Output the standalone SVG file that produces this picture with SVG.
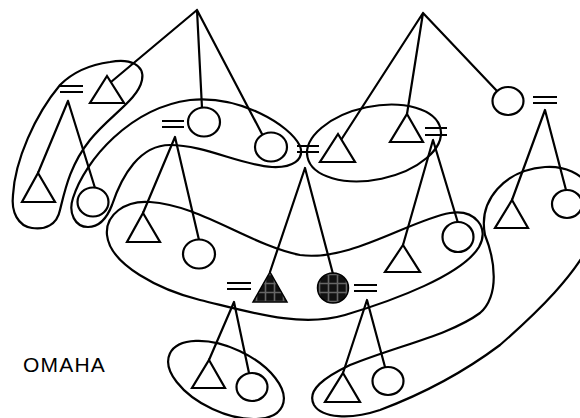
<svg xmlns="http://www.w3.org/2000/svg" width="580" height="418" viewBox="0 0 580 418">
<style>
.s{fill:none;stroke:#000;stroke-width:2.2;stroke-linejoin:round;stroke-linecap:round}
.n{fill:#fff;stroke:#000;stroke-width:2.2;stroke-linejoin:miter}
.f{fill:url(#hatch);stroke:#000;stroke-width:1.5}
.eq{stroke:#000;stroke-width:2;fill:none}
.t{font-family:"Liberation Sans",Arial,sans-serif;font-size:21px;letter-spacing:1.2px;fill:#000}
</style>
<defs>
<pattern id="hatch" width="9" height="9" patternUnits="userSpaceOnUse">
<rect width="9" height="9" fill="#111"/>
<path d="M0,4.5H9M4.5,0V9" stroke="#666" stroke-width="1.6"/>
</pattern>
</defs>
<rect width="580" height="418" fill="#fff"/>
<g id="enclosures" class="s">
<path d="M110,62 C130,58 145,65 142,80 C138,100 110,115 90,140 C70,165 65,190 60,210 C57,225 45,230 32,228 C18,226 11,212 13,195 C15,160 35,115 60,85 C75,70 95,64 110,62 Z"/>
<path d="M88,227 C75,227 68,213 73,198 C85,160 130,108 190,100 C240,95 290,125 300,146 C305,160 292,168 272,167 C240,165 205,145 170,145 C140,145 122,175 112,205 C107,218 100,227 88,227 Z"/>
<path d="M107,235 C105,215 125,200 150,202 C200,205 250,245 300,255 C350,262 410,220 450,213 C475,209 490,228 479,247 C462,275 395,300 345,315 C300,328 250,312 200,300 C160,290 110,265 107,235 Z"/>
<path d="M480,313 C500,295 495,260 485,235 C478,200 505,170 545,167 C585,164 610,200 592,240 C575,275 540,310 500,345 C460,375 420,395 380,410 C350,420 322,418 314,405 C306,390 325,377 350,365 C400,345 450,335 480,313 Z"/>
<ellipse cx="374" cy="143" rx="68" ry="36.5" transform="rotate(-12 374 143)"/>
<ellipse cx="226" cy="380" rx="62" ry="32" transform="rotate(25 226 380)"/>
</g>
<g id="connectors" class="s">
<path d="M197,10 L111,82 M197,10 L202,108 M197,10 L262,134"/>
<path d="M423,13 L341,140 M423,13 L407,114 M423,13 L497,91"/>
<path d="M68,101 L38,173 M68,101 L95,188"/>
<path d="M175,137 L143,213 M175,137 L199,240"/>
<path d="M305,168 L270,272 M305,168 L333,274"/>
<path d="M433,140 L403,245 M433,140 L458,223"/>
<path d="M545,110 L512,200 M545,110 L566,190"/>
<path d="M234,302 L209,360 M234,302 L249,373"/>
<path d="M367,300 L343,373 M367,300 L385,367"/>
</g>
<g id="equals" class="eq">
<path d="M60,86H83M60,92H83"/>
<path d="M162,121H184M162,127H184"/>
<path d="M297,146H319M297,152H319"/>
<path d="M425,128H447M425,135H447"/>
<path d="M533,97H557M533,103H557"/>
<path d="M227,283H251M227,289H251"/>
<path d="M354,285H377M354,291H377"/>
</g>
<g id="A"><path class="n" d="M107,76 L124,103 L90,103 Z"/></g>
<g id="D"><path class="n" d="M38,173 L55,202 L22,202 Z"/></g>
<g id="F"><path class="n" d="M143,213 L160,242 L127,242 Z"/></g>
<g id="H"><path class="n" d="M338,134 L355,162 L320,162 Z"/></g>
<g id="I"><path class="n" d="M407,114 L423,142 L390,142 Z"/></g>
<g id="K"><path class="f" d="M270,272 L287,302 L253,302 Z"/></g>
<g id="M"><path class="n" d="M403,245 L420,272 L385,272 Z"/></g>
<g id="O"><path class="n" d="M512,200 L528,228 L495,228 Z"/></g>
<g id="Q"><path class="n" d="M209,360 L225,388 L192,388 Z"/></g>
<g id="S"><path class="n" d="M343,373 L360,402 L325,402 Z"/></g>
<g id="B"><ellipse class="n" cx="204" cy="122" rx="16" ry="14.5"/></g>
<g id="C"><ellipse class="n" cx="271" cy="147" rx="16" ry="14.5"/></g>
<g id="E"><ellipse class="n" cx="93" cy="202" rx="15.5" ry="14.5"/></g>
<g id="G"><ellipse class="n" cx="199" cy="254" rx="16" ry="14.5"/></g>
<g id="J"><ellipse class="n" cx="508" cy="101" rx="15.5" ry="14"/></g>
<g id="L"><ellipse class="f" cx="333" cy="288" rx="15.5" ry="15"/></g>
<g id="N"><ellipse class="n" cx="458" cy="237" rx="15.5" ry="15"/></g>
<g id="P"><ellipse class="n" cx="567" cy="204" rx="15" ry="14"/></g>
<g id="R"><ellipse class="n" cx="252" cy="387" rx="15.5" ry="14"/></g>
<g id="T"><ellipse class="n" cx="388" cy="381" rx="15.5" ry="14"/></g>
<g id="label"><text class="t" x="23" y="372">OMAHA</text></g>
</svg>
